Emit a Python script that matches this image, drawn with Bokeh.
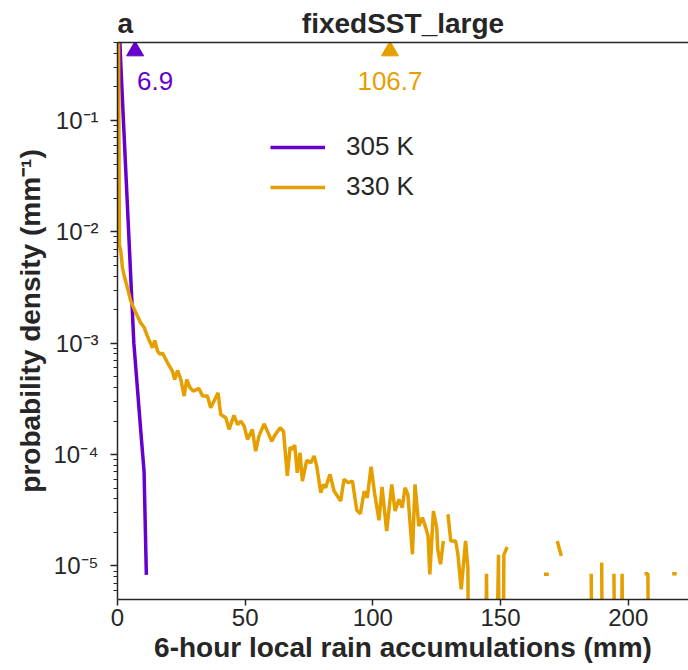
import numpy as np
from bokeh.plotting import figure
from bokeh.models import Range1d, FixedTicker, LinearAxis, ColumnDataSource
from bokeh.core.properties import value
from bokeh.embed import file_html
from bokeh.resources import INLINE

# ---------------- data ----------------
title_text = "fixedSST_large"
panel_letter = "a"
x_label = "6-hour local rain accumulations (mm)"
y_label = "probability density (mm\u207b\u00b9)"
series_names = ["305 K", "330 K"]
series_colors = ["#6600cc", "#e69f00"]

x_ticks = [0, 50, 100, 150, 200]
y_ticks = [1e-5, 1e-4, 1e-3, 1e-2, 1e-1]
y_tick_labels = ["10\u207b\u2075", "10\u207b\u2074", "10\u207b\u00b3", "10\u207b\u00b2", "10\u207b\u00b9"]

# 305 K: rain accumulation (mm) and log10 of probability density
rain_305 = [0.4, 1.4, 2.4, 3.4, 4.4, 5.4, 6.4, 7.4, 8.4, 9.4, 10.4, 11.3]
log10_pdf_305 = [0.0, -0.55, -1.04, -1.53, -2.02, -2.51, -3.0, -3.29, -3.58, -3.87, -4.15, -5.08]

# 330 K: nan = gap in the line, -inf = empty bin (drawn clipped far below the axis)
nan = float("nan")
ninf = float("-inf")
rain_330 = [
    0.35, 0.75, 1.3, 1.95, 2.9, 3.9, 5.2, 7.2, 9.1, 10.4, 11.7, 13.7, 14.6, 15.7, 16.7, 17.6,
    19.6, 21.5, 22.4, 23.5, 24.8, 26.1, 27.1, 28.4, 29.7, 31.9, 33.3, 35.2, 36.5, 37.8, 39.4,
    40.4, 42.4, 43.7, 45.6, 47.0, 48.3, 49.6, 50.9, 52.8, 54.1, 55.4, 57.4, 58.7, 60.4, 61.5,
    63.7, 65.0, 66.5, 67.6, 68.5, 69.4, 70.4, 71.5, 72.4, 74.1, 75.7, 77.0, 78.0, 79.6, 80.6,
    81.5, 83.2, 84.8, 86.1, 87.4, 88.7, 90.3, 92.0, 93.7, 95.1, 96.6, 97.8, 99.3, 100.7, 102.4,
    103.6, 105.4, 107.4, 108.7, 110.2, 111.5, 112.6, 113.7, 115.5, 116.5, 118.0, 119.4, 120.7,
    121.6, 122.3, 123.7, 125.0, 125.4, 126.5, 127.6, 128.5, 129.4, 130.5, 132.4, 133.3, 134.6,
    136.3, 137.2, 138.5, 140.0, 143.0, 144.5, 146.2, 149.2, 150.3, 151.3, 152.6, 153.5,
    167.0, 168.9, 170.0, 172.2, 173.8, 175.0, 185.5, 186.7, 188.0, 189.6, 190.8, 192.0,
    194.4, 196.0, 197.6, 199.0, 200.0, 206.4, 207.7, 208.9, 210.0, 217.2, 219.0, 220.0,
]
log10_pdf_330 = [
    0.0, -2.12, -2.175, -2.325, -2.42, -2.504, -2.623, -2.728, -2.818, -2.857, -2.937, -3.042, -2.976, -3.072, -3.10, -3.088,
    -3.176, -3.251, -3.326, -3.245, -3.326, -3.475, -3.326, -3.40, -3.43, -3.406, -3.475, -3.475, -3.58, -3.52, -3.446,
    -3.64, -3.67, -3.774, -3.648, -3.73, -3.70, -3.745, -3.864, -3.774, -3.97, -3.834, -3.724, -3.79, -3.88, -3.83,
    -3.76, -3.79, -4.19, -3.933, -3.954, -3.915, -4.163, -3.984, -4.238, -4.052, -4.073, -4.013, -4.103, -4.343, -4.268,
    -4.297, -4.178, -4.327, -4.372, -4.417, -4.222, -4.252, -4.238, -4.50, -4.53, -4.33, -4.387, -4.11, -4.35, -4.59,
    -4.29, -4.686, -4.268, -4.507, -4.402, -4.476, -4.297, -4.357, -4.895, -4.268, -4.641, -4.566, -4.656,
    -4.73, -5.075, -4.507, -4.656, -4.85, -4.985, -4.776, nan, -4.536, -4.776, -4.776, -4.895, -5.209,
    -4.776, -5.015, ninf, nan, ninf, -5.07, ninf, -4.9, ninf, -4.9, -4.83, nan,
    -5.075, -5.075, nan, -4.776, -4.91, nan, -5.07, ninf, nan, -4.97, ninf, nan,
    -5.07, ninf, -5.07, ninf, nan, -5.07, -5.07, ninf, nan, -5.07, -5.07, nan,
]

# values marked with triangles at the top of the panel
marked_values = [6.9, 106.7]

# ---------------- figure ----------------
FONT = "Liberation Sans"
DARK = "#262626"

x_lo, x_hi = 0, 223.6
y_lo, y_hi = 5e-6, 0.5

p = figure(width=688, height=670, x_range=Range1d(x_lo, x_hi), y_range=Range1d(y_lo, y_hi),
           y_axis_type="log", output_backend="svg", toolbar_location=None, title=None,
           min_border_left=117, min_border_right=0, min_border_top=42, min_border_bottom=71)
p.outline_line_color = None
p.grid.visible = False
p.background_fill_color = "white"
p.border_fill_color = "white"

xa = p.below[0]
ya = p.left[0]

# top spine; its two labels carry the panel letter (left) and the title (centred over the frame)
letter_pos = x_lo + 3.05
title_pos = (x_lo + x_hi) / 2
top_axis = LinearAxis(ticker=FixedTicker(ticks=[letter_pos, title_pos]),
                      major_label_overrides={letter_pos: panel_letter, title_pos: title_text},
                      major_tick_out=0, major_tick_in=0, minor_tick_out=0, minor_tick_in=0,
                      axis_line_width=1.5, axis_line_color=DARK, major_label_standoff=4,
                      major_label_text_font=FONT, major_label_text_font_size="28px",
                      major_label_text_font_style="bold", major_label_text_color=DARK)
p.add_layout(top_axis, "above")

def pdf_values(log_list):
    arr = np.power(10.0, np.array(log_list, dtype=float))
    # empty bins are clipped to a tiny positive value, as a log axis does
    return np.where(np.isnan(arr) | (arr > 0), arr, 1e-9)

src305 = ColumnDataSource(dict(x=rain_305, y=pdf_values(log10_pdf_305)))
src330 = ColumnDataSource(dict(x=rain_330, y=pdf_values(log10_pdf_330)))
p.line("x", "y", source=src305, line_width=3.5, line_color=series_colors[0], legend_label=series_names[0])
p.line("x", "y", source=src330, line_width=3.5, line_color=series_colors[1], legend_label=series_names[1])

# markers at top
tri_y = 0.42
p.scatter(x=marked_values, y=[tri_y] * len(marked_values), marker="triangle", size=17,
          fill_color=series_colors, line_color=series_colors)
lab_y = 0.225
p.text(x=[marked_values[0]], y=[lab_y], text=[f"{marked_values[0]}"], text_align="left", x_offset=2,
       text_baseline="alphabetic", text_font=value(FONT), text_font_size="26px", text_color=series_colors[0])
p.text(x=[marked_values[1]], y=[lab_y], text=[f"{marked_values[1]}"], text_align="center",
       text_baseline="alphabetic", text_font=value(FONT), text_font_size="26px", text_color=series_colors[1])

# axes
minor = [m * 10.0 ** e for e in range(-6, 0) for m in range(2, 10) if y_lo <= m * 10.0 ** e <= y_hi]
ya.ticker = FixedTicker(ticks=y_ticks, minor_ticks=minor)
ya.major_label_overrides = {t: l for t, l in zip(y_ticks, y_tick_labels)}
xa.ticker = FixedTicker(ticks=x_ticks)
xa.minor_tick_line_color = None

for ax in (xa, ya):
    ax.axis_line_width = 1.5
    ax.axis_line_color = DARK
    ax.major_tick_line_width = 1.5
    ax.major_tick_line_color = DARK
    ax.minor_tick_line_width = 1.2
    ax.major_tick_in = 0
    ax.minor_tick_in = 0
    ax.major_label_text_font = FONT
    ax.major_label_text_font_size = "24px"
    ax.major_label_text_color = DARK
    ax.axis_label_text_font = FONT
    ax.axis_label_text_font_size = "28px"
    ax.axis_label_text_font_style = "bold"
    ax.axis_label_text_color = DARK

xa.axis_label = x_label
xa.major_tick_out = 6
xa.major_label_standoff = 3
xa.axis_label_standoff = 3

ya.axis_label = y_label
ya.major_tick_out = 7
ya.minor_tick_out = 4
ya.minor_tick_line_color = DARK
ya.major_label_standoff = 12
ya.axis_label_standoff = 4

leg = p.legend[0]
leg.location = (153, 397)
leg.border_line_color = None
leg.background_fill_alpha = 0
leg.label_text_font = FONT
leg.label_text_font_size = "26px"
leg.label_text_color = DARK
leg.glyph_width = 55
leg.glyph_height = 28
leg.label_standoff = 21
leg.spacing = 9
leg.padding = 0
leg.margin = 0

open("out.html", "w").write(file_html(p, INLINE))
